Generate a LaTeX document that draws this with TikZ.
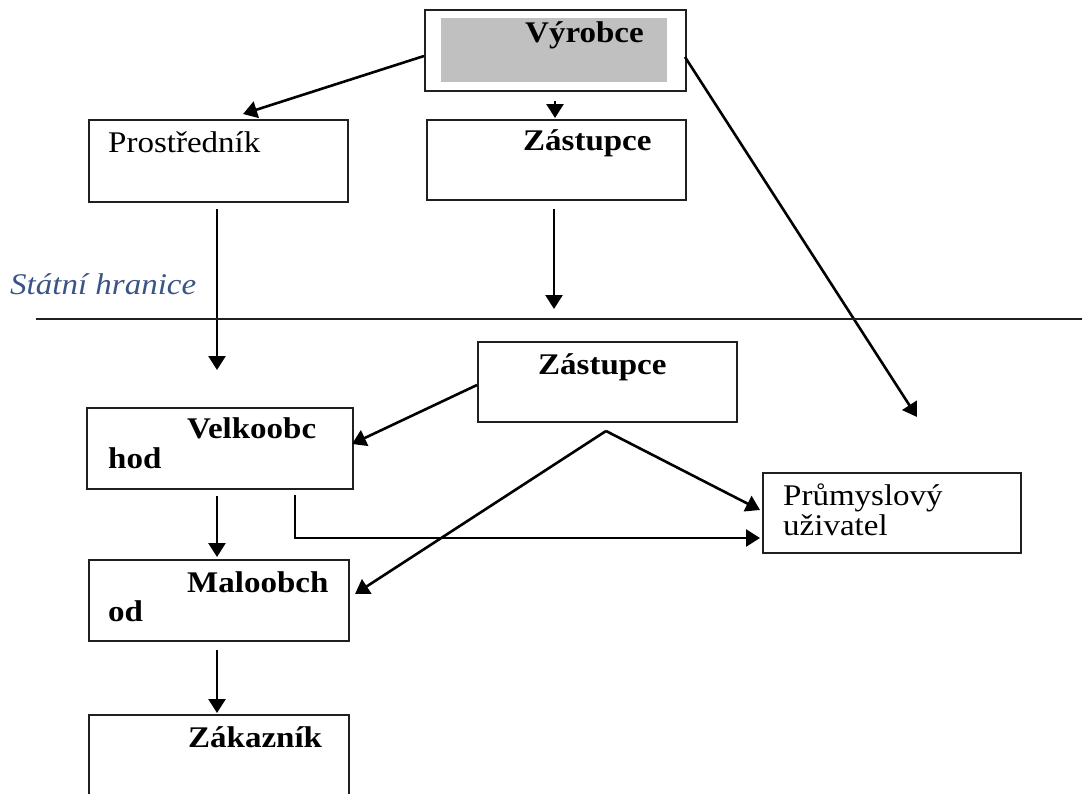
\documentclass[tikz,border=0pt]{standalone}
\usepackage{fontspec}
\setmainfont{Liberation Serif}[FakeStretch=1.1]
\usetikzlibrary{arrows.meta}
\definecolor{boxgray}{HTML}{C0C0C0}
\definecolor{bordercol}{HTML}{202020}
\definecolor{bluetxt}{HTML}{3A5485}
\begin{document}
\begin{tikzpicture}[x=1pt,y=-1pt,
  box/.style={draw=bordercol, line width=2.3pt, rectangle, inner sep=0pt, anchor=north west},
  lbl/.style={anchor=base west, inner sep=0pt, font=\fontsize{30}{30}\selectfont},
  blbl/.style={anchor=base west, inner sep=0pt, font=\fontsize{30}{30}\selectfont\bfseries},
  arr/.style={line width=2.6pt, -{Triangle[length=14pt,width=17pt]}},
  ln/.style={line width=2.3pt, draw=bordercol}]
\useasboundingbox (0,0) rectangle (1082,793);
\clip (0,0) rectangle (1082,793);
% boxes
\node[box, minimum width=261pt, minimum height=81pt] (vyr) at (424,9) {};
\fill[boxgray] (441,18) rectangle (667,82);
\node[box, minimum width=259pt, minimum height=82pt] (pro) at (88,119) {};
\node[box, minimum width=259pt, minimum height=80pt] (zas1) at (426,119) {};
\node[box, minimum width=259pt, minimum height=80pt] (zas2) at (477,341) {};
\node[box, minimum width=266pt, minimum height=81pt] (vel) at (86,407) {};
\node[box, minimum width=260pt, minimum height=81pt] (mal) at (88,559) {};
\node[box, minimum width=260pt, minimum height=120pt] (zak) at (88,714) {};
\node[box, minimum width=258pt, minimum height=80pt] (prum) at (762,472) {};
% texts
\node[blbl] (tvyr) at (525,42) {Výrobce};
\node[lbl] (tpro) at (108,152) {Prostředník};
\node[blbl] (tzas1) at (523,150) {Zástupce};
\node[lbl, font=\fontsize{30}{30}\selectfont\itshape, text=bluetxt] (thr) at (10,294) {Státní hranice};
\node[blbl] (tzas2) at (538,374) {Zástupce};
\node[blbl] (tvel1) at (187,438) {Velkoobc};
\node[blbl] (tvel2) at (108,468) {hod};
\node[blbl] (tmal1) at (187,592) {Maloobch};
\node[blbl] (tmal2) at (108,621) {od};
\node[blbl] (tzak) at (188,747) {Zákazník};
\node[lbl] (tprum1) at (783,505) {Průmyslový};
\node[lbl] (tprum2) at (783,535) {uživatel};
% coordinates
\coordinate (a1s) at (424,56);
\coordinate (a1e) at (243,114);
\coordinate (a2s) at (555,101);
\coordinate (a2e) at (555,118);
\coordinate (a3s) at (685,57);
\coordinate (a3e) at (917,417);
\coordinate (a4s) at (217,209);
\coordinate (a4e) at (217,370);
\coordinate (a5s) at (554,209);
\coordinate (a5e) at (554,309);
\coordinate (hl) at (36,319);
\coordinate (hr) at (1082,319);
\coordinate (a6s) at (477,385);
\coordinate (a6e) at (352,444);
\coordinate (peak) at (606,431);
\coordinate (a7e) at (355,594);
\coordinate (a8e) at (760,510);
\coordinate (a9s) at (295,495);
\coordinate (a9e) at (760,538);
\coordinate (a10s) at (217,496);
\coordinate (a10e) at (217,557);
\coordinate (a11s) at (217,650);
\coordinate (a11e) at (217,713);
% connectors
\draw[arr] (a1s) -- (a1e);
\draw[arr] (a2s) -- (a2e);
\draw[arr] (a3s) -- (a3e);
\draw[arr] (a4s) -- (a4e);
\draw[arr] (a5s) -- (a5e);
\draw[ln] (hl) -- (hr);
\draw[arr] (a6s) -- (a6e);
\draw[arr] (peak) -- (a7e);
\draw[arr] (peak) -- (a8e);
\draw[arr] (a9s) |- (a9e);
\draw[arr] (a10s) -- (a10e);
\draw[arr] (a11s) -- (a11e);
\end{tikzpicture}
\end{document}
